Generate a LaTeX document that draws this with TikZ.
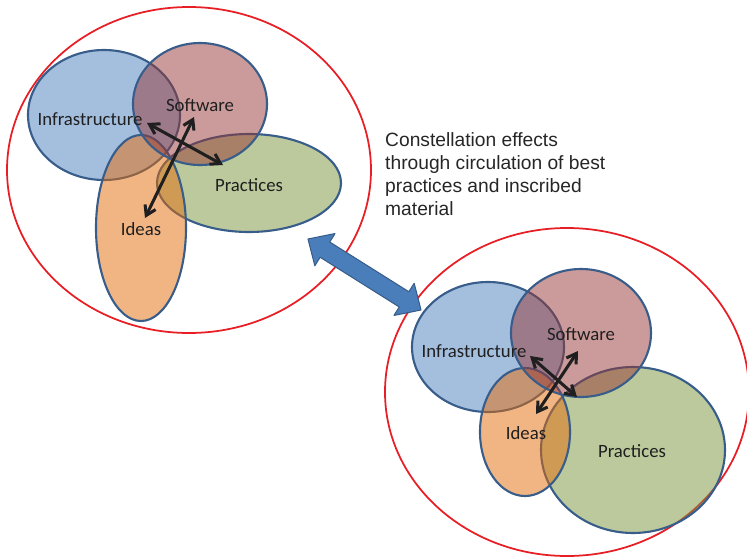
\documentclass[tikz,border=0pt]{standalone}
\usepackage{fontspec}
\setmainfont{Carlito}
\newfontfamily\notefont{Liberation Sans}
\usetikzlibrary{calc,arrows.meta}
\definecolor{infracol}{RGB}{73,125,189}
\definecolor{softcol}{RGB}{149,55,53}
\definecolor{praccol}{RGB}{119,148,58}
\definecolor{ideacol}{RGB}{228,108,10}
\definecolor{setline}{RGB}{56,93,138}
\definecolor{grpred}{RGB}{232,30,37}
\definecolor{bigblue}{RGB}{74,126,187}
\tikzset{>={Straight Barb[length=8pt,width=10pt]},
  set/.style={draw=setline, line width=1.8pt, fill opacity=0.5},
  group/.style={draw=grpred, line width=1.5pt},
  link/.style={<->, line width=2.6pt, draw=black!88},
  lbl/.style={font=\fontsize{16}{19}\selectfont, text=black!88}}

\begin{document}
\begin{tikzpicture}[x=0.03cm,y=-0.03cm]
        \useasboundingbox (0,0) rectangle (747,557);
        % the two constellations
        \draw[group] (189,170) ellipse (182 and 163);
        \draw[group] (567,392) ellipse (182 and 164);

        % first constellation
        \filldraw[set, fill=infracol] (104,115) ellipse (76 and 65);
        \filldraw[set, fill=praccol] (249,183) ellipse (92 and 49);
        \filldraw[set, fill=ideacol] (141,228) ellipse (45 and 93);
        \filldraw[set, fill=softcol] (200,104) ellipse (67 and 61);

        % second constellation
        \filldraw[set, fill=infracol] (488,347) ellipse (76 and 65);
        \filldraw[set, fill=praccol] (633,450) ellipse (92 and 83);
        \filldraw[set, fill=ideacol] (525,432) ellipse (45 and 64);
        \filldraw[set, fill=softcol] (581,333) ellipse (70 and 64);

        % big two-way arrow
        \coordinate (ta) at (308,239);
        \coordinate (tb) at (421,310);
        \filldraw[fill=bigblue, draw=setline, line width=0.9pt, line join=round]
          (ta) -- ($(ta)!0.6cm!(tb)!0.57cm!90:(tb)$) -- ($(ta)!0.6cm!(tb)!0.27cm!90:(tb)$)
          -- ($(tb)!0.6cm!(ta)!0.27cm!-90:(ta)$) -- ($(tb)!0.6cm!(ta)!0.57cm!-90:(ta)$)
          -- (tb) -- ($(tb)!0.6cm!(ta)!0.57cm!90:(ta)$) -- ($(tb)!0.6cm!(ta)!0.27cm!90:(ta)$)
          -- ($(ta)!0.6cm!(tb)!0.27cm!-90:(tb)$) -- ($(ta)!0.6cm!(tb)!0.57cm!-90:(tb)$) -- cycle;

        \node[inner sep=0pt, anchor=north west, align=left, text=black!85,
              font=\notefont\fontsize{16.4}{19.6}\selectfont] at (385,132) (note)
          {Constellation effects\\through circulation of best\\practices and inscribed\\material};

        % labels
        \node[lbl] at (90,119)   (infa) {Infrastructure};
        \node[lbl] at (200,105)  (sofa) {Software};
        \node[lbl] at (249,185)  (praa) {Practices};
        \node[lbl] at (141,229)  (idea) {Ideas};
        \node[lbl] at (474,351)  (infb) {Infrastructure};
        \node[lbl] at (581,334)  (sofb) {Software};
        \node[lbl] at (632,451)  (prab) {Practices};
        \node[lbl] at (526,433)  (ideb) {Ideas};

        % links between the four sets
        \coordinate (ia) at (147,123);  \coordinate (pa) at (223,165);
        \coordinate (sa) at (194,117);  \coordinate (da) at (145,218);
        \coordinate (ib) at (530,356);  \coordinate (pb) at (577,397);
        \coordinate (sb) at (578,351);  \coordinate (db) at (536,414);
        \draw[link] (ia) -- (pa);
        \draw[link] (sa) -- (da);
        \draw[link] (ib) -- (pb);
        \draw[link] (sb) -- (db);
\end{tikzpicture}
\end{document}
